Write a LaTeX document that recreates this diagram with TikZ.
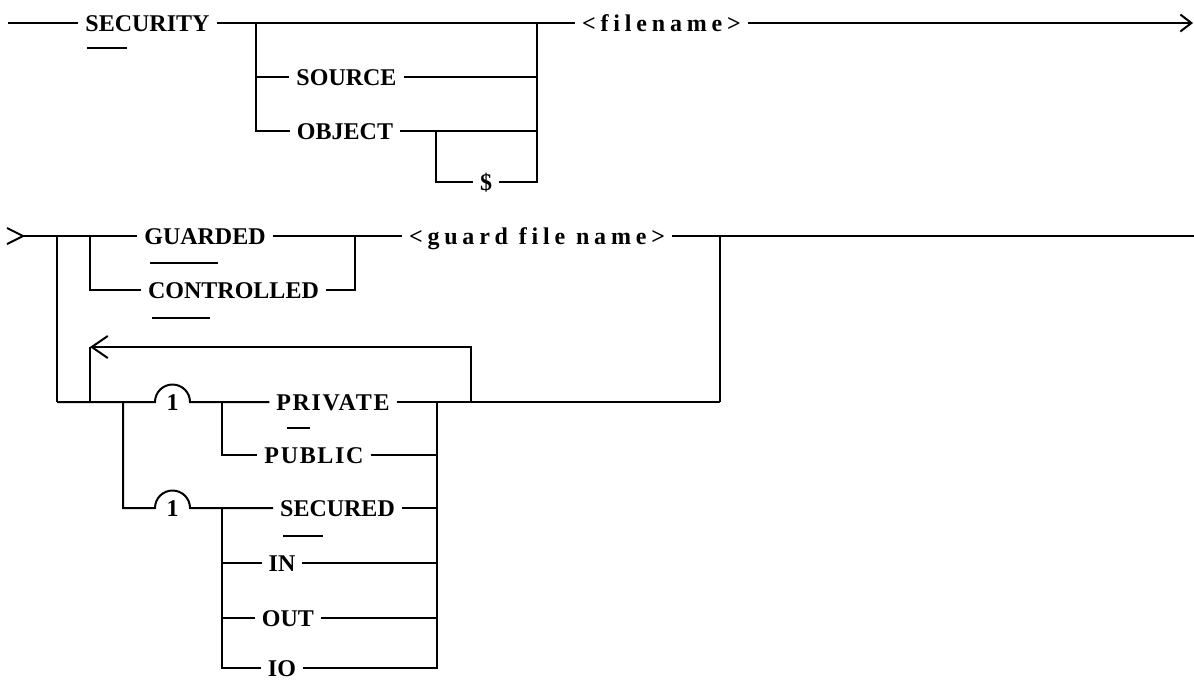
\documentclass[tikz,border=0pt]{standalone}
\usepackage{fontspec}
\setmainfont{Liberation Serif}
\usetikzlibrary{arrows.meta}
\begin{document}
\begin{tikzpicture}[x=1pt,y=-1pt,line width=2pt,
  kw/.style={font=\fontsize{24}{26}\selectfont\bfseries, inner xsep=7pt, inner ysep=0pt,
             text height=16pt, text depth=0pt, outer sep=0pt},
  spaced/.style={kw, font=\fontsize{24}{26}\selectfont\bfseries\addfontfeature{LetterSpace=20}},
  lightspaced/.style={kw, font=\fontsize{24}{26}\selectfont\bfseries\addfontfeature{LetterSpace=7}},
  endtip/.style={-{Straight Barb[length=11pt,width=17pt]}},
  looptip/.style={-{Straight Barb[length=16pt,width=22pt]}},
  uline/.style={line width=2pt}]
\useasboundingbox (0,0) rectangle (1194,681);

% ---------- row 1 ----------
\coordinate (r1s) at (8,23);
\node[kw] (security) at (147.5,23) {SECURITY};
\coordinate (a1) at (256,23);
\coordinate (a2) at (537,23);
\node[kw] (source) at (346.5,77) {SOURCE};
\node[kw] (object) at (345,131) {OBJECT};
\coordinate (b1) at (436,131);
\node[kw] (dollar) at (486,182) {\$};
\node[spaced] (filename) at (661.5,23) {<filename>};
\coordinate (r1e) at (1193,23);

\draw (r1s) -- (security);
\draw (security) -- (filename);
\draw[endtip] (filename) -- (r1e);
\draw (a1) |- (object);
\draw (source.west -| a1) -- (source);
\draw (source) -- (source.east -| a2);
\draw (object) -- (object.east -| a2);
\draw (b1) |- (dollar);
\draw (dollar) -| (a2);
\draw[uline] (87,48) -- (127,48);

% ---------- row 2 ----------
\coordinate (r2s) at (23,236);
\draw ([shift={(-16,-8)}]r2s) -- (r2s) -- ([shift={(-16,8)}]r2s);
\node[kw] (guarded) at (205,236) {GUARDED};
\node[kw] (controlled) at (233.5,290) {CONTROLLED};
\node[spaced] (guard) at (537,236) {<guard file name>};
\coordinate (c1) at (57,236);
\coordinate (c2) at (90,236);
\coordinate (c3) at (355,236);
\coordinate (c4) at (720,236);
\coordinate (r2e) at (1194,236);

\draw (r2s) -- (guarded);
\draw (guarded) -- (guard);
\draw (guard) -- (r2e);
\draw (c2) |- (controlled);
\draw (controlled) -| (c3);
\draw[uline] (150,263) -- (218,263);
\draw[uline] (152,318) -- (210,318);

% ---------- row 3: option list ----------
\coordinate (p0) at (57,402);
\coordinate (p1) at (90,402);
\coordinate (p2) at (123,402);
\coordinate (k1) at (155,402);
\coordinate (p3) at (222,402);
\coordinate (p4) at (437,402);
\coordinate (p5) at (471,402);
\coordinate (p6) at (720,402);
\coordinate (lp) at (90,347);
\node[kw] (one1) at (172.5,402) {1};
\node[lightspaced] (private) at (333,402) {PRIVATE};
\node[lightspaced] (public) at (314,455) {PUBLIC};

\coordinate (k2) at (155,508);
\coordinate (q3) at (222,508);
\node[kw] (one2) at (172.5,508) {1};
\node[kw] (secured) at (337.5,508) {SECURED};
\node[kw] (in) at (282,563) {IN};
\node[kw] (out) at (288,618) {OUT};
\node[kw] (io) at (282,668) {IO};

\draw (c1) -- (p0);
\draw (p0) -- (k1) arc[start angle=180,end angle=0,radius=17.5pt] -- (private);
\draw (private) -- (p6);
\draw (c4) -- (p6);
\draw[looptip] (p5) |- (lp);
\draw (lp) -- (p1);
\draw (p3) |- (public);
\draw (public) -- (public -| p4);
\draw (p2) |- (k2) arc[start angle=180,end angle=0,radius=17.5pt] -- (secured);
\draw (q3) |- (io);
\draw (in.west -| q3) -- (in);
\draw (out.west -| q3) -- (out);
\draw (secured) -- (secured -| p4);
\draw (in) -- (in -| p4);
\draw (out) -- (out -| p4);
\draw (io) -| (p4);
\draw[uline] (287,428) -- (310,428);
\draw[uline] (283,536) -- (323,536);
\end{tikzpicture}
\end{document}
